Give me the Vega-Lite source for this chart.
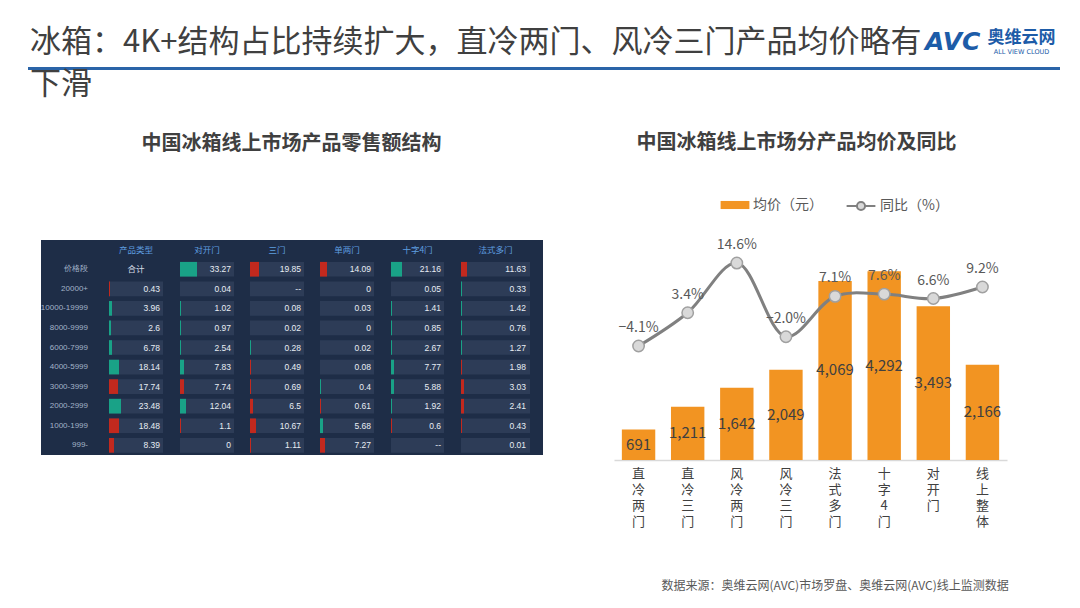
{
  "$schema": "https://vega.github.io/schema/vega-lite/v6.json",
  "padding": {"left": 28, "top": 26, "right": 5, "bottom": 5},
  "background": "#ffffff",
  "config": {"font": "Noto Sans CJK SC", "view": {"stroke": null}, "concat": {"spacing": 0}},
  "resolve": {"scale": {"color": "independent", "stroke": "independent"}, "legend": {"color": "independent", "stroke": "independent"}},
  "datasets": {
    "price": [
      {"cat": "直冷两门", "price": 691, "yoy": -0.041},
      {"cat": "直冷三门", "price": 1211, "yoy": 0.034},
      {"cat": "风冷两门", "price": 1642, "yoy": 0.146},
      {"cat": "风冷三门", "price": 2049, "yoy": -0.020},
      {"cat": "法式多门", "price": 4069, "yoy": 0.071},
      {"cat": "十字4门", "price": 4292, "yoy": 0.076},
      {"cat": "对开门", "price": 3493, "yoy": 0.066},
      {"cat": "线上整体", "price": 2166, "yoy": 0.092}
    ],
    "segments": [
      {"seg": "价格段"}, {"seg": "20000+"}, {"seg": "10000-19999"}, {"seg": "8000-9999"}, {"seg": "6000-7999"},
      {"seg": "4000-5999"}, {"seg": "3000-3999"}, {"seg": "2000-2999"}, {"seg": "1000-1999"}, {"seg": "999-"}
    ],
    "heads": [
      {"seg": "hdr", "type": "合计", "label": "产品类型"},
      {"seg": "价格段", "type": "合计", "label": "合计"},
      {"seg": "hdr", "type": "对开门", "label": "对开门"},
      {"seg": "hdr", "type": "三门", "label": "三门"},
      {"seg": "hdr", "type": "单两门", "label": "单两门"},
      {"seg": "hdr", "type": "十字4门", "label": "十字4门"},
      {"seg": "hdr", "type": "法式多门", "label": "法式多门"}
    ],
    "cells": [
      {"seg": "价格段", "type": "对开门", "v": "33.27", "chg": 8.5, "trend": "up"},
      {"seg": "价格段", "type": "三门", "v": "19.85", "chg": 4.5, "trend": "down"},
      {"seg": "价格段", "type": "单两门", "v": "14.09", "chg": 3.5, "trend": "down"},
      {"seg": "价格段", "type": "十字4门", "v": "21.16", "chg": 5.5, "trend": "up"},
      {"seg": "价格段", "type": "法式多门", "v": "11.63", "chg": 3, "trend": "down"},
      {"seg": "20000+", "type": "合计", "v": "0.43", "chg": 0.5, "trend": "down"},
      {"seg": "20000+", "type": "对开门", "v": "0.04", "chg": 0, "trend": "flat"},
      {"seg": "20000+", "type": "三门", "v": "--", "chg": 0, "trend": "flat"},
      {"seg": "20000+", "type": "单两门", "v": "0", "chg": 0, "trend": "flat"},
      {"seg": "20000+", "type": "十字4门", "v": "0.05", "chg": 0, "trend": "flat"},
      {"seg": "20000+", "type": "法式多门", "v": "0.33", "chg": 0.5, "trend": "up"},
      {"seg": "10000-19999", "type": "合计", "v": "3.96", "chg": 1.5, "trend": "up"},
      {"seg": "10000-19999", "type": "对开门", "v": "1.02", "chg": 0.5, "trend": "up"},
      {"seg": "10000-19999", "type": "三门", "v": "0.08", "chg": 0, "trend": "flat"},
      {"seg": "10000-19999", "type": "单两门", "v": "0.03", "chg": 0, "trend": "flat"},
      {"seg": "10000-19999", "type": "十字4门", "v": "1.41", "chg": 0.5, "trend": "up"},
      {"seg": "10000-19999", "type": "法式多门", "v": "1.42", "chg": 0.5, "trend": "up"},
      {"seg": "8000-9999", "type": "合计", "v": "2.6", "chg": 1, "trend": "up"},
      {"seg": "8000-9999", "type": "对开门", "v": "0.97", "chg": 0.5, "trend": "up"},
      {"seg": "8000-9999", "type": "三门", "v": "0.02", "chg": 0, "trend": "flat"},
      {"seg": "8000-9999", "type": "单两门", "v": "0", "chg": 0, "trend": "flat"},
      {"seg": "8000-9999", "type": "十字4门", "v": "0.85", "chg": 0.5, "trend": "up"},
      {"seg": "8000-9999", "type": "法式多门", "v": "0.76", "chg": 0.5, "trend": "up"},
      {"seg": "6000-7999", "type": "合计", "v": "6.78", "chg": 1.5, "trend": "up"},
      {"seg": "6000-7999", "type": "对开门", "v": "2.54", "chg": 0.5, "trend": "up"},
      {"seg": "6000-7999", "type": "三门", "v": "0.28", "chg": 0.5, "trend": "up"},
      {"seg": "6000-7999", "type": "单两门", "v": "0.02", "chg": 0, "trend": "flat"},
      {"seg": "6000-7999", "type": "十字4门", "v": "2.67", "chg": 0.5, "trend": "up"},
      {"seg": "6000-7999", "type": "法式多门", "v": "1.27", "chg": 0.5, "trend": "up"},
      {"seg": "4000-5999", "type": "合计", "v": "18.14", "chg": 5, "trend": "up"},
      {"seg": "4000-5999", "type": "对开门", "v": "7.83", "chg": 2, "trend": "up"},
      {"seg": "4000-5999", "type": "三门", "v": "0.49", "chg": 0.5, "trend": "down"},
      {"seg": "4000-5999", "type": "单两门", "v": "0.08", "chg": 0, "trend": "flat"},
      {"seg": "4000-5999", "type": "十字4门", "v": "7.77", "chg": 1.5, "trend": "up"},
      {"seg": "4000-5999", "type": "法式多门", "v": "1.98", "chg": 0.5, "trend": "down"},
      {"seg": "3000-3999", "type": "合计", "v": "17.74", "chg": 4.5, "trend": "down"},
      {"seg": "3000-3999", "type": "对开门", "v": "7.74", "chg": 2, "trend": "down"},
      {"seg": "3000-3999", "type": "三门", "v": "0.69", "chg": 0.5, "trend": "down"},
      {"seg": "3000-3999", "type": "单两门", "v": "0.4", "chg": 0.5, "trend": "up"},
      {"seg": "3000-3999", "type": "十字4门", "v": "5.88", "chg": 1.5, "trend": "up"},
      {"seg": "3000-3999", "type": "法式多门", "v": "3.03", "chg": 1.5, "trend": "down"},
      {"seg": "2000-2999", "type": "合计", "v": "23.48", "chg": 6, "trend": "up"},
      {"seg": "2000-2999", "type": "对开门", "v": "12.04", "chg": 3, "trend": "up"},
      {"seg": "2000-2999", "type": "三门", "v": "6.5", "chg": 1.5, "trend": "down"},
      {"seg": "2000-2999", "type": "单两门", "v": "0.61", "chg": 0.5, "trend": "down"},
      {"seg": "2000-2999", "type": "十字4门", "v": "1.92", "chg": 0.5, "trend": "up"},
      {"seg": "2000-2999", "type": "法式多门", "v": "2.41", "chg": 1.5, "trend": "down"},
      {"seg": "1000-1999", "type": "合计", "v": "18.48", "chg": 5, "trend": "down"},
      {"seg": "1000-1999", "type": "对开门", "v": "1.1", "chg": 0.5, "trend": "down"},
      {"seg": "1000-1999", "type": "三门", "v": "10.67", "chg": 3, "trend": "down"},
      {"seg": "1000-1999", "type": "单两门", "v": "5.68", "chg": 1.5, "trend": "up"},
      {"seg": "1000-1999", "type": "十字4门", "v": "0.6", "chg": 0.5, "trend": "down"},
      {"seg": "1000-1999", "type": "法式多门", "v": "0.43", "chg": 0.5, "trend": "down"},
      {"seg": "999-", "type": "合计", "v": "8.39", "chg": 2.5, "trend": "down"},
      {"seg": "999-", "type": "对开门", "v": "0", "chg": 0, "trend": "flat"},
      {"seg": "999-", "type": "三门", "v": "1.11", "chg": 0.5, "trend": "down"},
      {"seg": "999-", "type": "单两门", "v": "7.27", "chg": 2.5, "trend": "down"},
      {"seg": "999-", "type": "十字4门", "v": "--", "chg": 0, "trend": "flat"},
      {"seg": "999-", "type": "法式多门", "v": "0.01", "chg": 0, "trend": "flat"}
    ]
  },
  "spacing": -5,
  "vconcat": [
    {
      "hconcat": [
        {
          "width": 897, "height": 3,
          "view": {"fill": "#2a64a8", "stroke": null},
          "title": {"text": "冰箱：4K+结构占比持续扩大，直冷两门、风冷三门产品均价略有", "anchor": "start", "fontSize": 31, "fontWeight": "normal", "color": "#404040", "offset": 4, "dx": 2},
          "data": {"values": [{}]},
          "mark": {"type": "text", "text": ""}
        },
        {
          "width": 58, "height": 3,
          "view": {"fill": "#2a64a8", "stroke": null},
          "title": {"text": "AVC", "anchor": "start", "font": "DejaVu Sans", "fontSize": 25, "fontStyle": "italic", "fontWeight": 900, "color": "#1d5ca8", "offset": 8},
          "data": {"values": [{}]},
          "mark": {"type": "text", "text": ""}
        },
        {
          "width": 77, "height": 3,
          "view": {"fill": "#2a64a8", "stroke": null},
          "title": {"text": "奥维云网", "subtitle": "ALL VIEW CLOUD", "anchor": "middle", "fontSize": 17, "fontWeight": "bold", "color": "#1d5ca8", "subtitleFontSize": 6.5, "subtitleColor": "#1d5ca8", "subtitleFont": "DejaVu Sans", "subtitlePadding": 2, "offset": 6},
          "data": {"values": [{}]},
          "mark": {"type": "text", "text": ""}
        }
      ]
    },
    {
      "title": {"text": "下滑", "anchor": "start", "fontSize": 31, "fontWeight": "normal", "color": "#404040", "offset": 32, "dx": 2},
      "spacing": 71,
      "resolve": {"scale": {"color": "independent", "stroke": "independent"}, "legend": {"color": "independent", "stroke": "independent"}},
      "hconcat": [
        {
          "title": {"text": "中国冰箱线上市场产品零售额结构", "anchor": "middle", "fontSize": 20, "fontWeight": "bold", "color": "#404040", "offset": 86, "dx": 6},
          "spacing": 0,
          "hconcat": [
            {"width": 12, "height": 215, "data": {"values": [{}]}, "mark": {"type": "text", "text": ""}, "view": {"stroke": null}},
            {
              "width": 65, "height": 215, "view": {"fill": "#1e2d47", "stroke": null},
              "data": {"name": "segments"},
              "mark": {"type": "text", "align": "right", "dx": 14.5, "fontSize": 8, "color": "#a3b3c8", "font": "Liberation Sans"},
              "encoding": {
                "y": {"field": "seg", "type": "ordinal", "scale": {"domain": ["hdr","价格段","20000+","10000-19999","8000-9999","6000-7999","4000-5999","3000-3999","2000-2999","1000-1999","999-"], "paddingInner": 0.25, "paddingOuter": 0.12}, "axis": null},
                "text": {"field": "seg", "type": "nominal"}
              }
            },
            {
              "width": 71, "height": 215, "view": {"fill": "#1e2d47", "stroke": null},
              "encoding": {"y": {"field": "seg", "type": "ordinal", "scale": {"domain": ["hdr","价格段","20000+","10000-19999","8000-9999","6000-7999","4000-5999","3000-3999","2000-2999","1000-1999","999-"], "paddingInner": 0.25, "paddingOuter": 0.12}, "axis": null}},
              "layer": [
                {"data": {"name": "cells"}, "transform": [{"filter": "datum.type === '合计'"}], "mark": {"type": "bar", "color": "#2d3c57"}, "encoding": {"x": {"datum": 27, "type": "quantitative", "scale": {"domain": [-1.5, 34], "nice": false}, "axis": null}}},
                {"data": {"name": "cells"}, "transform": [{"filter": "datum.type === '合计' && datum.chg > 0"}], "mark": {"type": "bar"}, "encoding": {"x": {"field": "chg", "type": "quantitative", "axis": null}, "color": {"condition": {"test": "datum.trend === 'up'", "value": "#19a287"}, "value": "#c2291e"}}},
                {"data": {"name": "cells"}, "transform": [{"filter": "datum.type === '合计'"}], "mark": {"type": "text", "align": "right", "dx": -3, "fontSize": 8.5, "color": "#e8edf4", "font": "Liberation Sans"}, "encoding": {"x": {"datum": 27, "type": "quantitative"}, "text": {"field": "v", "type": "nominal"}}},
                {"data": {"name": "heads"}, "transform": [{"filter": "datum.type === '合计'"}], "mark": {"type": "text", "fontSize": 8.5}, "encoding": {"x": {"datum": 13.5, "type": "quantitative"}, "text": {"field": "label", "type": "nominal"}, "color": {"condition": {"test": "datum.seg === 'hdr'", "value": "#5f9fe0"}, "value": "#d5dce6"}}}
              ]
            },
            {
              "width": 70, "height": 215, "view": {"fill": "#1e2d47", "stroke": null},
              "encoding": {"y": {"field": "seg", "type": "ordinal", "scale": {"domain": ["hdr","价格段","20000+","10000-19999","8000-9999","6000-7999","4000-5999","3000-3999","2000-2999","1000-1999","999-"], "paddingInner": 0.25, "paddingOuter": 0.12}, "axis": null}},
              "layer": [
                {"data": {"name": "cells"}, "transform": [{"filter": "datum.type === '对开门'"}], "mark": {"type": "bar", "color": "#2d3c57"}, "encoding": {"x": {"datum": 27, "type": "quantitative", "scale": {"domain": [-1.5, 33.5], "nice": false}, "axis": null}}},
                {"data": {"name": "cells"}, "transform": [{"filter": "datum.type === '对开门' && datum.chg > 0"}], "mark": {"type": "bar"}, "encoding": {"x": {"field": "chg", "type": "quantitative", "axis": null}, "color": {"condition": {"test": "datum.trend === 'up'", "value": "#19a287"}, "value": "#c2291e"}}},
                {"data": {"name": "cells"}, "transform": [{"filter": "datum.type === '对开门'"}], "mark": {"type": "text", "align": "right", "dx": -3, "fontSize": 8.5, "color": "#e8edf4", "font": "Liberation Sans"}, "encoding": {"x": {"datum": 27, "type": "quantitative"}, "text": {"field": "v", "type": "nominal"}}},
                {"data": {"name": "heads"}, "transform": [{"filter": "datum.type === '对开门'"}], "mark": {"type": "text", "fontSize": 8.5, "color": "#5f9fe0"}, "encoding": {"x": {"datum": 13.5, "type": "quantitative"}, "text": {"field": "label", "type": "nominal"}}}
              ]
            },
            {
              "width": 70, "height": 215, "view": {"fill": "#1e2d47", "stroke": null},
              "encoding": {"y": {"field": "seg", "type": "ordinal", "scale": {"domain": ["hdr","价格段","20000+","10000-19999","8000-9999","6000-7999","4000-5999","3000-3999","2000-2999","1000-1999","999-"], "paddingInner": 0.25, "paddingOuter": 0.12}, "axis": null}},
              "layer": [
                {"data": {"name": "cells"}, "transform": [{"filter": "datum.type === '三门'"}], "mark": {"type": "bar", "color": "#2d3c57"}, "encoding": {"x": {"datum": 27, "type": "quantitative", "scale": {"domain": [-1.5, 33.5], "nice": false}, "axis": null}}},
                {"data": {"name": "cells"}, "transform": [{"filter": "datum.type === '三门' && datum.chg > 0"}], "mark": {"type": "bar"}, "encoding": {"x": {"field": "chg", "type": "quantitative", "axis": null}, "color": {"condition": {"test": "datum.trend === 'up'", "value": "#19a287"}, "value": "#c2291e"}}},
                {"data": {"name": "cells"}, "transform": [{"filter": "datum.type === '三门'"}], "mark": {"type": "text", "align": "right", "dx": -3, "fontSize": 8.5, "color": "#e8edf4", "font": "Liberation Sans"}, "encoding": {"x": {"datum": 27, "type": "quantitative"}, "text": {"field": "v", "type": "nominal"}}},
                {"data": {"name": "heads"}, "transform": [{"filter": "datum.type === '三门'"}], "mark": {"type": "text", "fontSize": 8.5, "color": "#5f9fe0"}, "encoding": {"x": {"datum": 13.5, "type": "quantitative"}, "text": {"field": "label", "type": "nominal"}}}
              ]
            },
            {
              "width": 71, "height": 215, "view": {"fill": "#1e2d47", "stroke": null},
              "encoding": {"y": {"field": "seg", "type": "ordinal", "scale": {"domain": ["hdr","价格段","20000+","10000-19999","8000-9999","6000-7999","4000-5999","3000-3999","2000-2999","1000-1999","999-"], "paddingInner": 0.25, "paddingOuter": 0.12}, "axis": null}},
              "layer": [
                {"data": {"name": "cells"}, "transform": [{"filter": "datum.type === '单两门'"}], "mark": {"type": "bar", "color": "#2d3c57"}, "encoding": {"x": {"datum": 27, "type": "quantitative", "scale": {"domain": [-1.5, 34], "nice": false}, "axis": null}}},
                {"data": {"name": "cells"}, "transform": [{"filter": "datum.type === '单两门' && datum.chg > 0"}], "mark": {"type": "bar"}, "encoding": {"x": {"field": "chg", "type": "quantitative", "axis": null}, "color": {"condition": {"test": "datum.trend === 'up'", "value": "#19a287"}, "value": "#c2291e"}}},
                {"data": {"name": "cells"}, "transform": [{"filter": "datum.type === '单两门'"}], "mark": {"type": "text", "align": "right", "dx": -3, "fontSize": 8.5, "color": "#e8edf4", "font": "Liberation Sans"}, "encoding": {"x": {"datum": 27, "type": "quantitative"}, "text": {"field": "v", "type": "nominal"}}},
                {"data": {"name": "heads"}, "transform": [{"filter": "datum.type === '单两门'"}], "mark": {"type": "text", "fontSize": 8.5, "color": "#5f9fe0"}, "encoding": {"x": {"datum": 13.5, "type": "quantitative"}, "text": {"field": "label", "type": "nominal"}}}
              ]
            },
            {
              "width": 70, "height": 215, "view": {"fill": "#1e2d47", "stroke": null},
              "encoding": {"y": {"field": "seg", "type": "ordinal", "scale": {"domain": ["hdr","价格段","20000+","10000-19999","8000-9999","6000-7999","4000-5999","3000-3999","2000-2999","1000-1999","999-"], "paddingInner": 0.25, "paddingOuter": 0.12}, "axis": null}},
              "layer": [
                {"data": {"name": "cells"}, "transform": [{"filter": "datum.type === '十字4门'"}], "mark": {"type": "bar", "color": "#2d3c57"}, "encoding": {"x": {"datum": 26.5, "type": "quantitative", "scale": {"domain": [-1.5, 33.5], "nice": false}, "axis": null}}},
                {"data": {"name": "cells"}, "transform": [{"filter": "datum.type === '十字4门' && datum.chg > 0"}], "mark": {"type": "bar"}, "encoding": {"x": {"field": "chg", "type": "quantitative", "axis": null}, "color": {"condition": {"test": "datum.trend === 'up'", "value": "#19a287"}, "value": "#c2291e"}}},
                {"data": {"name": "cells"}, "transform": [{"filter": "datum.type === '十字4门'"}], "mark": {"type": "text", "align": "right", "dx": -3, "fontSize": 8.5, "color": "#e8edf4", "font": "Liberation Sans"}, "encoding": {"x": {"datum": 26.5, "type": "quantitative"}, "text": {"field": "v", "type": "nominal"}}},
                {"data": {"name": "heads"}, "transform": [{"filter": "datum.type === '十字4门'"}], "mark": {"type": "text", "fontSize": 8.5, "color": "#5f9fe0"}, "encoding": {"x": {"datum": 13.25, "type": "quantitative"}, "text": {"field": "label", "type": "nominal"}}}
              ]
            },
            {
              "width": 85, "height": 215, "view": {"fill": "#1e2d47", "stroke": null},
              "encoding": {"y": {"field": "seg", "type": "ordinal", "scale": {"domain": ["hdr","价格段","20000+","10000-19999","8000-9999","6000-7999","4000-5999","3000-3999","2000-2999","1000-1999","999-"], "paddingInner": 0.25, "paddingOuter": 0.12}, "axis": null}},
              "layer": [
                {"data": {"name": "cells"}, "transform": [{"filter": "datum.type === '法式多门'"}], "mark": {"type": "bar", "color": "#2d3c57"}, "encoding": {"x": {"datum": 34.5, "type": "quantitative", "scale": {"domain": [-1.5, 41], "nice": false}, "axis": null}}},
                {"data": {"name": "cells"}, "transform": [{"filter": "datum.type === '法式多门' && datum.chg > 0"}], "mark": {"type": "bar"}, "encoding": {"x": {"field": "chg", "type": "quantitative", "axis": null}, "color": {"condition": {"test": "datum.trend === 'up'", "value": "#19a287"}, "value": "#c2291e"}}},
                {"data": {"name": "cells"}, "transform": [{"filter": "datum.type === '法式多门'"}], "mark": {"type": "text", "align": "right", "dx": -4, "fontSize": 8.5, "color": "#e8edf4", "font": "Liberation Sans"}, "encoding": {"x": {"datum": 34.5, "type": "quantitative"}, "text": {"field": "v", "type": "nominal"}}},
                {"data": {"name": "heads"}, "transform": [{"filter": "datum.type === '法式多门'"}], "mark": {"type": "text", "fontSize": 8.5, "color": "#5f9fe0"}, "encoding": {"x": {"datum": 17.25, "type": "quantitative"}, "text": {"field": "label", "type": "nominal"}}}
              ]
            }
          ]
        },
        {
          "width": 393, "height": 220,
          "title": {"text": "中国冰箱线上市场分产品均价及同比", "anchor": "middle", "fontSize": 20, "fontWeight": "bold", "color": "#404040", "offset": 43, "dx": -14},
          "data": {"name": "price"},
          "encoding": {
            "x": {"field": "cat", "type": "nominal", "sort": null,
              "scale": {"paddingInner": 0.32, "paddingOuter": 0.16},
              "axis": {"title": "数据来源：奥维云网(AVC)市场罗盘、奥维云网(AVC)线上监测数据", "titleFontSize": 12, "titleColor": "#595959", "titleFontWeight": "normal", "titleAnchor": "start", "titleAlign": "left", "titleX": 47, "titleY": 125, "titleBaseline": "middle",
                "labelAngle": 0, "labelExpr": "split(datum.label, '')", "labelFontSize": 13, "labelLineHeight": 16, "labelColor": "#404040", "labelPadding": 7, "labelBaseline": "top", "labelOverlap": false, "labelBound": false,
                "ticks": false, "domainColor": "#d9d9d9", "domainWidth": 1.5, "grid": false}}
          },
          "layer": [
            {
              "mark": {"type": "bar"},
              "encoding": {
                "y": {"field": "price", "type": "quantitative", "scale": {"domain": [0, 5000], "nice": false}, "axis": null},
                "color": {"datum": "均价（元）", "type": "nominal", "scale": {"range": ["#F29422"]},
                  "legend": {"orient": "none", "legendX": 112, "legendY": -44, "title": null, "symbolType": "M-1.6,-0.45H1.6V0.45H-1.6Z", "symbolSize": 324, "symbolStrokeWidth": 0, "labelFontSize": 14, "labelColor": "#595959", "labelOffset": 9}}
              }
            },
            {
              "mark": {"type": "text", "fontSize": 15, "color": "#404040", "baseline": "middle"},
              "encoding": {
                "y": {"field": "price", "type": "quantitative", "scale": {"domain": [0, 10000], "nice": false}, "axis": null},
                "text": {"field": "price", "type": "quantitative", "format": ","}
              }
            },
            {
              "mark": {"type": "line", "strokeWidth": 3, "interpolate": "catmull-rom"},
              "encoding": {
                "y": {"field": "yoy", "type": "quantitative", "scale": {"domain": [-0.298, 0.198], "nice": false}, "axis": null},
                "stroke": {"datum": "同比（%）", "type": "nominal", "scale": {"range": ["#808080"]},
                  "legend": {"orient": "none", "legendX": 237, "legendY": -44, "title": null, "symbolType": "M-1.6,0H-0.45M0.45,0H1.6M0.45,0A0.45,0.45,0,1,1,-0.45,0A0.45,0.45,0,1,1,0.45,0", "symbolSize": 324, "symbolStrokeWidth": 2, "labelFontSize": 14, "labelColor": "#595959", "labelOffset": 9,
                    "symbolFillColor": "#d9d9d9",
                    "encode": {"symbols": {"update": {"fill": {"value": "#d9d9d9"}, "stroke": {"value": "#808080"}, "strokeWidth": {"value": 2}}}}}}
              }
            },
            {
              "mark": {"type": "point", "filled": true, "size": 130, "fill": "#d9d9d9", "stroke": "#a0a0a0", "strokeWidth": 1.5, "opacity": 1},
              "encoding": {
                "y": {"field": "yoy", "type": "quantitative", "scale": {"domain": [-0.298, 0.198], "nice": false}, "axis": null}
              }
            },
            {
              "mark": {"type": "text", "fontSize": 14, "color": "#595959", "dy": -18},
              "encoding": {
                "y": {"field": "yoy", "type": "quantitative", "scale": {"domain": [-0.298, 0.198], "nice": false}, "axis": null},
                "text": {"field": "yoy", "type": "quantitative", "format": ".1%"}
              }
            }
          ],
          "resolve": {"scale": {"y": "independent"}}
        }
      ]
    }
  ]
}
